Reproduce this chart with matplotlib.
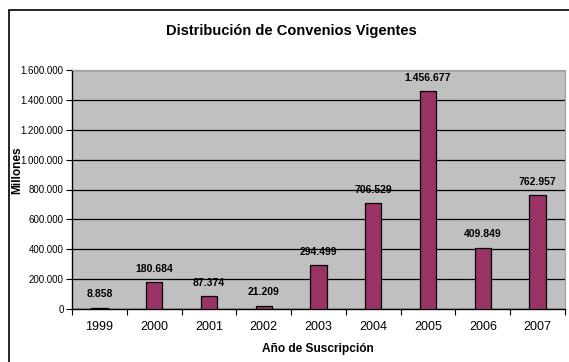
import matplotlib.pyplot as plt
from matplotlib.patches import Rectangle
from matplotlib.ticker import FuncFormatter, FixedLocator

anios = ['1999', '2000', '2001', '2002', '2003', '2004', '2005', '2006', '2007']
montos = [8858, 180684, 87374, 21209, 294499, 706529, 1456677, 409849, 762957]


def miles(v, pos=None):
    return f"{int(v):,}".replace(",", ".")


def grafico(anios, montos):
    fig = plt.figure(figsize=(5.69, 3.62), dpi=100)
    ax = fig.add_axes([72 / 569, 1 - 309 / 362, (565 - 72) / 569, (309 - 70) / 362])

    # marco del grafico
    fig.patches.append(Rectangle((9 / 569, -0.05), 1.0, 1 - 10 / 362 + 0.05,
                                 transform=fig.transFigure, fill=False,
                                 edgecolor='black', linewidth=1.2))

    x = list(range(len(anios)))
    ax.set_facecolor('#C0C0C0')
    ax.bar(x, montos, width=0.3, color='#993366', edgecolor='black', linewidth=0.9, zorder=3)

    for xi, v in zip(x, montos):
        ax.annotate(miles(v), (xi, v), xytext=(0, 6), textcoords='offset points',
                    ha='center', va='bottom', fontsize=7.5, fontweight='bold',
                    family='Liberation Sans')

    ax.set_xlim(-0.5, len(anios) - 0.5)
    ax.set_ylim(0, 1600000)
    ax.set_yticks(range(0, 1600001, 200000))
    ax.yaxis.set_major_formatter(FuncFormatter(miles))
    ax.grid(axis='y', color='black', linewidth=0.9, zorder=1)

    ax.set_xticks(x)
    ax.set_xticklabels(anios)
    ax.xaxis.set_minor_locator(FixedLocator([i - 0.5 for i in range(len(anios) + 1)]))
    ax.tick_params(axis='x', which='major', length=0, pad=9, labelsize=9)
    ax.tick_params(axis='x', which='minor', length=4, width=0.8, direction='out')
    ax.tick_params(axis='y', length=4, width=0.8, direction='out', labelsize=7, pad=2)
    for lbl in ax.get_xticklabels() + ax.get_yticklabels():
        lbl.set_family('Liberation Sans')

    for side in ['top', 'right']:
        ax.spines[side].set_color('#A0A0A0')
        ax.spines[side].set_linewidth(0.8)
    ax.spines['left'].set_linewidth(1.0)
    ax.spines['bottom'].set_linewidth(1.0)

    fig.text(291 / 569, 1 - 31 / 362, 'Distribución de Convenios Vigentes', ha='center', va='center',
             fontsize=10.5, fontweight='bold', family='Liberation Sans')
    fig.text(318 / 569, 1 - 349 / 362, 'Año de Suscripción', ha='center', va='center',
             fontsize=8.6, fontweight='bold', family='Liberation Sans')
    fig.text(17 / 569, 1 - 170 / 362, 'Millones', ha='center', va='center', rotation=90,
             fontsize=8.6, fontweight='bold', family='Liberation Sans')

    fig.savefig('out.png', dpi=100)


if __name__ == "__main__":
    grafico(anios, montos)
